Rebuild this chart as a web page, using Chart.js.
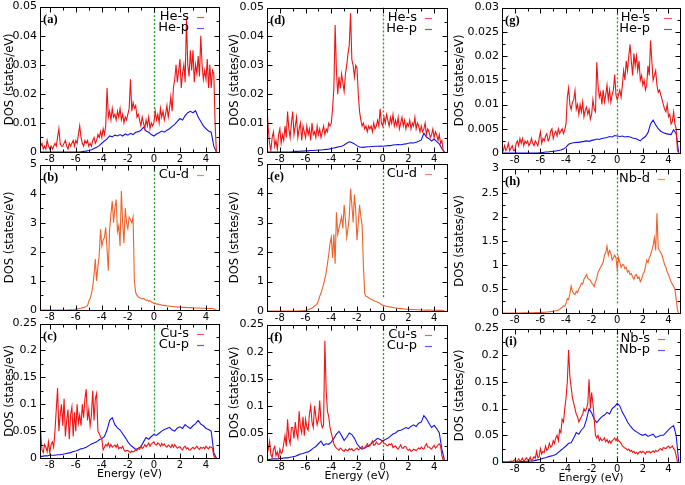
<!DOCTYPE html>
<html><head><meta charset="utf-8">
<script src="https://cdn.jsdelivr.net/npm/chart.js@4.4.0/dist/chart.umd.min.js"></script>
<style>
html,body{margin:0;padding:0;background:#fff;width:685px;height:485px;overflow:hidden;position:relative}
canvas{position:absolute}
</style></head><body>
<script>
// Energy grids (eV)
const energy = [-9.0,-8.8,-8.6,-8.4,-8.2,-8.0,-7.8,-7.6,-7.4,-7.2,
 -7.0,-6.8,-6.6,-6.4,-6.2,-6.0,-5.8,-5.6,-5.4,-5.2,
 -5.0,-4.8,-4.6,-4.4,-4.2,-4.0,-3.8,-3.6,-3.4,-3.2,
 -3.0,-2.8,-2.6,-2.4,-2.2,-2.0,-1.8,-1.6,-1.4,-1.2,
 -1.0,-0.8,-0.6,-0.4,-0.2,0.0,0.2,0.4,0.6,0.8,
 1.0,1.2,1.4,1.6,1.8,2.0,2.2,2.4,2.6,2.8,
 3.0,3.2,3.4,3.6,3.8,4.0,4.2,4.4,4.6,4.8];
const energyFine = [-9.0,-8.9,-8.8,-8.7,-8.6,-8.5,-8.4,-8.3,-8.2,-8.1,
 -8.0,-7.9,-7.8,-7.7,-7.6,-7.5,-7.4,-7.3,-7.2,-7.1,
 -7.0,-6.9,-6.8,-6.7,-6.6,-6.5,-6.4,-6.3,-6.2,-6.1,
 -6.0,-5.9,-5.8,-5.7,-5.6,-5.5,-5.4,-5.3,-5.2,-5.1,
 -5.0,-4.9,-4.8,-4.7,-4.6,-4.5,-4.4,-4.3,-4.2,-4.1,
 -4.0,-3.9,-3.8,-3.7,-3.6,-3.5,-3.4,-3.3,-3.2,-3.1,
 -3.0,-2.9,-2.8,-2.7,-2.6,-2.5,-2.4,-2.3,-2.2,-2.1,
 -2.0,-1.9,-1.8,-1.7,-1.6,-1.5,-1.4,-1.3,-1.2,-1.1,
 -1.0,-0.9,-0.8,-0.7,-0.6,-0.5,-0.4,-0.3,-0.2,-0.1,
 0.0,0.1,0.2,0.3,0.4,0.5,0.6,0.7,0.8,0.9,
 1.0,1.1,1.2,1.3,1.4,1.5,1.6,1.7,1.8,1.9,
 2.0,2.1,2.2,2.3,2.4,2.5,2.6,2.7,2.8,2.9,
 3.0,3.1,3.2,3.3,3.4,3.5,3.6,3.7,3.8,3.9,
 4.0,4.1,4.2,4.3,4.4,4.5,4.6,4.7,4.8];

const xTicks = [-8,-6,-4,-2,0,2,4];
const xMinorTicks = [-9,-7,-5,-3,-1,1,3,5];
const yTicksHe = [0,0.01,0.02,0.03,0.04,0.05];
const yTicksHeNb = [0,0.005,0.01,0.015,0.02,0.025,0.03];
const yTicksCuD = [0,1,2,3,4,5];
const yTicksNbD = [0,0.5,1,1.5,2,2.5,3];
const yTicksSP = [0,0.05,0.1,0.15,0.2,0.25];

// (a) He in Cu, fine grid for s, coarse for p
const aHeS = [.002,.003,.001,.002,.003,.001,.002,.001,.004,.002,
 .001,.002,.001,.002,.003,.002,.005,.008,.003,.002,
 .002,.003,.004,.002,.001,.003,.002,.003,.004,.002,
 .004,.003,.006,.009,.005,.003,.002,.004,.003,.004,
 .002,.003,.002,.004,.005,.003,.004,.006,.005,.007,
 .005,.008,.006,.009,.022,.012,.014,.011,.015,.012,
 .013,.011,.014,.012,.015,.011,.013,.010,.012,.011,
 .013,.015,.025,.014,.017,.015,.016,.012,.013,.011,
 .009,.012,.010,.008,.011,.009,.012,.008,.010,.009,
 .010,.014,.011,.013,.010,.015,.012,.014,.011,.013,
 .016,.012,.015,.019,.014,.022,.025,.030,.024,.028,
 .032,.022,.027,.030,.024,.046,.030,.026,.035,.028,
 .035,.024,.030,.027,.033,.026,.040,.030,.025,.028,
 .025,.032,.022,.030,.022,.028,.027,.010,0];
const aHeP = [0,0,0,0,0,0,0,0,0,0,
 0,0,0,0,0,0,0,.0001,.0002,.0003,
 .0005,.0008,.0012,.0016,.0022,.003,.0038,.0045,.0055,.0052,
 .0058,.0055,.006,.0055,.0062,.0058,.0064,.006,.0068,.007,
 .0075,.0085,.0072,.0068,.006,.0055,.0062,.0066,.0072,.0068,
 .0075,.008,.0088,.0095,.0105,.0115,.011,.0125,.0135,.014,
 .0135,.0142,.012,.0105,.009,.008,.0072,.0068,.002,0];
// (b) Cu-d
const bCuD = [0,0,0,0,0,0,0,0,0,0,
 0,0,0,0,0,0,0,0,0,0,
 0,0,0,0,0,.005,.005,.01,.01,.015,
 .03,.03,.04,.05,.06,.08,.08,.1,.12,.15,
 .3,.4,.55,.8,1.2,1.75,1.0,1.5,1.9,2.78,
 2.2,2.4,2.5,2.84,2.1,1.35,2.8,3.3,3.75,3.0,
 3.5,3.8,2.7,2.9,2.2,4.09,3.0,2.3,3.5,3.0,
 2.8,3.2,3.1,3.0,3.2,1.0,.6,.5,.45,.42,
 .4,.38,.4,.36,.33,.35,.3,.32,.28,.26,
 .22,.24,.2,.21,.18,.19,.17,.16,.16,.15,
 .14,.14,.13,.13,.12,.12,.11,.11,.1,.1,
 .1,.1,.09,.09,.09,.09,.08,.08,.08,.08,
 .07,.07,.07,.07,.07,.07,.06,.06,.06,.06,
 .05,.05,.05,.05,.05,.05,.04,.01,0];
// (c) Cu-s (fine), Cu-p (coarse)
const cCuS = [.03,.035,.02,.05,.015,.01,.025,.02,.012,.03,
 .01,.025,.03,.02,.05,.09,.13,.05,.08,.1,
 .06,.11,.04,.07,.09,.035,.08,.095,.04,.085,
 .05,.1,.065,.08,.06,.1,.075,.11,.128,.07,
 .09,.06,.08,.125,.07,.11,.12,.05,.045,.04,
 .035,.015,.02,.025,.022,.028,.02,.025,.02,.022,
 .024,.02,.025,.017,.02,.018,.022,.015,.012,.014,
 .014,.012,.01,.013,.011,.013,.015,.014,.018,.016,
 .022,.018,.02,.025,.021,.024,.028,.022,.026,.028,
 .03,.025,.024,.028,.026,.022,.027,.023,.026,.022,
 .02,.024,.022,.019,.025,.02,.025,.021,.018,.02,
 .021,.017,.015,.02,.022,.017,.019,.015,.015,.018,
 .02,.017,.019,.022,.018,.016,.02,.018,.02,.017,
 .022,.019,.017,.021,.02,.018,.004,0,0];
const cCuP = [.002,.003,.003,.004,.004,.005,.005,.005,.006,.006,
 .007,.008,.009,.01,.012,.013,.015,.017,.018,.02,
 .023,.026,.028,.03,.034,.036,.04,.052,.07,.075,
 .062,.056,.052,.045,.038,.03,.024,.02,.016,.018,
 .021,.03,.038,.035,.04,.044,.042,.046,.05,.053,
 .055,.057,.052,.05,.056,.058,.055,.062,.058,.055,
 .06,.064,.07,.063,.06,.055,.053,.05,.01,0];
// (d) He in CuNb-interface (fine s, coarse p)
const dHeS = [.015,.008,.003,.0005,.005,.007,.002,.004,.001,.006,
 .008,.003,.006,.004,.009,.005,.014,.008,.005,.010,
 .014,.006,.009,.012,.005,.008,.010,.004,.009,.007,
 .005,.009,.006,.008,.004,.010,.006,.007,.005,.009,
 .006,.008,.005,.007,.009,.006,.008,.007,.010,.009,
 .010,.015,.022,.044,.028,.020,.026,.022,.027,.024,
 .021,.027,.030,.034,.037,.048,.032,.030,.026,.030,
 .029,.020,.014,.011,.009,.010,.008,.009,.007,.009,
 .008,.009,.007,.010,.008,.009,.011,.009,.015,.010,
 .009,.012,.010,.013,.011,.009,.012,.010,.013,.009,
 .011,.009,.012,.008,.010,.012,.009,.011,.008,.010,
 .009,.011,.008,.010,.009,.012,.008,.010,.009,.007,
 .009,.007,.008,.010,.006,.008,.007,.005,.006,.008,
 .005,.007,.006,.004,.006,.003,.004,.0005,0];
const dHeP = [0,0,0,0,0,0,0,0,0,0,
 .0001,.0002,.0002,.0003,.0003,.0004,.0004,.0005,.0005,.0006,
 .0006,.0007,.0008,.0009,.001,.0012,.0014,.0016,.0018,.002,
 .0024,.003,.0035,.0033,.0028,.0022,.0017,.0016,.0017,.0018,
 .0018,.0019,.002,.002,.0021,.002,.0021,.0022,.0022,.0024,
 .0025,.0026,.0025,.0027,.0028,.003,.0032,.0031,.0034,.0037,
 .0042,.0065,.0052,.0046,.0038,.0045,.0036,.0028,.0012,0];
// (e) Cu-d
const eCuD = [0,0,0,0,0,0,0,0,0,0,
 0,0,0,0,0,0,0,0,0,0,
 0,0,0,0,.002,.004,.006,.008,.01,.015,
 .02,.03,.04,.06,.08,.1,.13,.17,.2,.25,
 .35,.5,.6,.75,.9,1.1,1.3,1.6,1.9,2.3,
 2.5,1.8,2.6,1.6,3.35,2.6,2.8,3.0,3.2,2.8,
 3.6,3.1,2.5,2.8,3.2,4.15,3.6,3.0,3.95,3.4,
 2.4,3.0,3.6,3.2,2.9,1.5,.6,.5,.48,.45,
 .42,.4,.38,.35,.33,.32,.3,.28,.25,.22,
 .2,.19,.17,.16,.15,.14,.13,.13,.12,.11,
 .1,.1,.09,.09,.08,.08,.07,.07,.06,.06,
 .06,.05,.05,.05,.05,.05,.04,.04,.04,.04,
 .04,.035,.035,.03,.03,.03,.03,.03,.025,.025,
 .025,.025,.02,.02,.02,.02,.02,.015,.01];
// (f) Cu-s (fine), Cu-p (coarse)
const fCuS = [.01,.02,.035,.01,.005,.02,.025,.008,.015,.005,
 .02,.012,.015,.03,.045,.025,.075,.04,.03,.06,
 .06,.04,.07,.05,.04,.09,.06,.05,.08,.045,
 .075,.06,.055,.085,.1,.07,.06,.1,.08,.065,
 .075,.11,.07,.06,.065,.22,.13,.09,.08,.06,
 .05,.04,.03,.025,.022,.02,.018,.022,.02,.017,
 .016,.02,.018,.017,.021,.019,.021,.017,.018,.02,
 .022,.019,.02,.023,.025,.021,.022,.026,.03,.025,
 .026,.03,.035,.027,.028,.033,.03,.029,.03,.033,
 .036,.03,.03,.027,.026,.03,.028,.03,.023,.025,
 .026,.022,.02,.024,.028,.022,.022,.025,.025,.02,
 .018,.02,.016,.017,.02,.019,.017,.02,.022,.02,
 .024,.021,.02,.026,.03,.024,.024,.022,.02,.024,
 .027,.022,.024,.028,.03,.026,.008,0,0];
const fCuP = [.001,.001,.002,.002,.002,.003,.003,.004,.004,.005,
 .006,.007,.009,.011,.012,.014,.015,.018,.022,.025,
 .03,.035,.027,.03,.029,.033,.04,.048,.053,.045,
 .036,.042,.05,.047,.04,.03,.024,.02,.022,.025,
 .028,.032,.036,.04,.038,.035,.038,.04,.044,.048,
 .05,.054,.055,.057,.06,.058,.062,.065,.062,.068,
 .07,.082,.076,.068,.06,.064,.058,.05,.02,0];
// (g) He in Nb (fine s, coarse p)
const gHeS = [.001,.0005,.0015,.0005,.001,.002,.0005,.001,.0015,.0005,
 .0005,.002,.0025,.0015,.003,.002,.003,.0015,.0025,.002,
 .0025,.0015,.002,.003,.002,.0015,.0025,.002,.0015,.003,
 .0044,.002,.003,.0025,.0035,.004,.0025,.003,.0045,.005,
 .003,.004,.0045,.0035,.005,.004,.0045,.005,.004,.0048,
 .006,.0115,.0134,.010,.009,.0105,.011,.0129,.009,.010,
 .008,.010,.0085,.0105,.0075,.0088,.0095,.008,.009,.007,
 .008,.011,.009,.0085,.0187,.014,.0115,.0125,.010,.013,
 .0105,.012,.014,.011,.013,.0105,.012,.013,.0162,.012,
 .011,.012,.013,.0115,.014,.017,.015,.019,.017,.020,
 .0224,.019,.016,.0205,.018,.020,.017,.019,.015,.016,
 .014,.015,.013,.014,.018,.016,.0232,.019,.015,.016,
 .017,.014,.0125,.013,.012,.011,.010,.009,.0085,.010,
 .0075,.008,.006,.0065,.0085,.006,.005,.0005,0];
const gHeP = [0,0,0,0,0,0,0,0,0,0,
 0,0,0,0,0,.0001,.0001,.0002,.0002,.0003,
 .0003,.0004,.0005,.0006,.0008,.0012,.0018,.002,.0021,.0022,
 .0022,.0023,.0024,.0025,.0024,.0026,.0027,.0029,.0028,.003,
 .0031,.0032,.0034,.0033,.0036,.0035,.0034,.0035,.0033,.0034,
 .0033,.0031,.003,.0028,.0025,.003,.0034,.0042,.006,.0068,
 .0058,.005,.0045,.0042,.004,.0039,.0038,.0048,.004,0];
// (h) Nb-d
const hNbD = [0,0,0,0,0,0,0,0,0,0,
 0,0,0,0,0,0,.002,.002,.003,.003,
 .004,.004,.005,.005,.006,.006,.007,.008,.009,.01,
 .01,.012,.013,.015,.017,.02,.022,.025,.028,.03,
 .035,.04,.045,.05,.06,.08,.1,.12,.15,.14,
 .2,.3,.28,.4,.56,.45,.4,.38,.45,.42,
 .5,.55,.62,.6,.7,.75,.8,.72,.7,.68,
 .62,.6,.55,.65,.72,.85,.9,.95,1.0,1.05,
 1.2,1.25,1.39,1.2,1.3,1.25,1.1,1.15,1.2,1.15,
 .9,1.15,1.05,.95,1.0,1.0,.92,.95,.85,.88,
 .8,.82,.75,.7,.78,.8,.72,.75,.65,.7,
 .8,.85,.95,1.1,1.05,1.15,1.2,1.3,1.4,1.56,
 1.3,2.07,1.35,1.3,1.25,1.2,1.1,1.0,.95,.85,
 .8,.72,.65,.6,.55,.5,.3,.05,0];
// (i) Nb-s (fine), Nb-p (coarse)
const iNbS = [0,0,0,0,0,0,.001,.002,0,.003,
 .004,.001,.002,.006,.002,.003,.007,.002,.004,.008,
 .004,.003,.009,.002,.005,.01,.007,.02,.008,.01,
 .025,.015,.02,.018,.03,.022,.025,.035,.028,.03,
 .04,.035,.045,.05,.04,.06,.055,.08,.075,.1,
 .12,.15,.21,.16,.14,.12,.11,.1,.09,.085,
 .075,.08,.085,.09,.1,.095,.1,.11,.155,.1,
 .13,.11,.08,.05,.045,.05,.04,.045,.04,.042,
 .045,.038,.042,.036,.04,.035,.04,.042,.045,.04,
 .045,.04,.038,.035,.03,.028,.026,.025,.022,.024,
 .02,.022,.018,.02,.016,.018,.015,.018,.02,.017,
 .02,.018,.015,.02,.018,.02,.017,.019,.021,.018,
 .022,.02,.021,.024,.025,.022,.027,.026,.025,.028,
 .03,.026,.028,.03,.025,.022,.012,0,0];
const iNbP = [0,0,0,0,0,0,.0005,.001,.001,.001,
 .0015,.002,.002,.003,.004,.005,.007,.008,.01,.011,
 .012,.014,.018,.022,.026,.03,.035,.036,.045,.055,
 .052,.06,.065,.08,.1,.092,.08,.074,.08,.085,
 .088,.093,.09,.1,.104,.11,.105,.093,.085,.075,
 .068,.062,.058,.055,.052,.05,.052,.048,.05,.052,
 .046,.048,.05,.05,.055,.06,.065,.068,.05,0];

const RED = '#f01414', BLUE = '#1414e6', ORANGE = '#f0622a', GREEN = '#1e9e1e';
const RED_L = 'rgba(240,20,20,0.7)', BLUE_L = 'rgba(20,20,230,0.7)', ORANGE_L = 'rgba(240,98,42,0.75)';

const col1 = {L:40, R:219, xMin:-8.75, xMax:5, yw:40, titleX:10};
const col2 = {L:267, R:447, xMin:-9, xMax:5, yw:44, titleX:235};
const col3 = {L:502, R:680, xMin:-9, xMax:4.9, yw:50, titleX:460};

const panels = [
 {lab:'(a)', col:col1, T:5,   B:152, yTicks:yTicksHe,   fermiLow:0.012, series:[['He-s',energyFine,aHeS,RED,RED_L],['He-p',energy,aHeP,BLUE,BLUE_L]], bottom:false},
 {lab:'(b)', col:col1, T:163, B:310, yTicks:yTicksCuD,  fermiLow:0.34,  series:[['Cu-d',energyFine,bCuD,ORANGE,ORANGE_L]], bottom:false},
 {lab:'(c)', col:col1, T:322, B:458, yTicks:yTicksSP,   fermiLow:0.042, series:[['Cu-s',energyFine,cCuS,RED,RED_L],['Cu-p',energy,cCuP,BLUE,BLUE_L]], bottom:true},
 {lab:'(d)', col:col2, T:6,   B:152, yTicks:yTicksHe,   fermiLow:0.004, series:[['He-s',energyFine,dHeS,RED,RED_L],['He-p',energy,dHeP,BLUE,BLUE_L]], bottom:false},
 {lab:'(e)', col:col2, T:162, B:311, yTicks:yTicksCuD,  fermiLow:0.47,  series:[['Cu-d',energyFine,eCuD,ORANGE,ORANGE_L]], bottom:false},
 {lab:'(f)', col:col2, T:323, B:460, yTicks:yTicksSP,   fermiLow:0.009, series:[['Cu-s',energyFine,fCuS,RED,RED_L],['Cu-p',energy,fCuP,BLUE,BLUE_L]], bottom:true},
 {lab:'(g)', col:col3, T:6,   B:153, yTicks:yTicksHeNb, fermiLow:0.002, series:[['He-s',energyFine,gHeS,RED,RED_L],['He-p',energy,gHeP,BLUE,BLUE_L]], bottom:false, legLine:[16,8]},
 {lab:'(h)', col:col3, T:167, B:313, yTicks:yTicksNbD,  fermiLow:0.2,   series:[['Nb-d',energyFine,hNbD,ORANGE,ORANGE_L]], bottom:false},
 {lab:'(i)', col:col3, T:327, B:462, yTicks:yTicksSP,   fermiLow:0,     series:[['Nb-s',energyFine,iNbS,RED,RED_L],['Nb-p',energy,iNbP,BLUE,BLUE_L]], bottom:true}
];

function fmt(v){ return String(Number(Number(v).toFixed(4))); }

function deco(p){
  return {
    id: 'deco',
    beforeDatasetsDraw(c){
      const {ctx, chartArea:a, scales:{x, y}} = c;
      const px = Math.round(x.getPixelForValue(0)) + 0.5;
      ctx.save();
      ctx.strokeStyle = GREEN; ctx.lineWidth = 1.3; ctx.setLineDash([2,2]);
      ctx.beginPath(); ctx.moveTo(px, y.getPixelForValue(p.fermiLow)); ctx.lineTo(px, a.top); ctx.stroke();
      ctx.restore();
    },
    afterDatasetsDraw(c){
      const {ctx, chartArea:a, scales:{x, y}} = c;
      ctx.save();
      ctx.strokeStyle = '#000'; ctx.lineWidth = 1;
      const l = Math.round(a.left)+0.5, r = Math.round(a.right)+0.5, t = Math.round(a.top)+0.5, b = Math.round(a.bottom)+0.5;
      ctx.strokeRect(l, t, r-l, b-t);
      ctx.beginPath();
      const xt = (v, len) => { const px = Math.round(x.getPixelForValue(v))+0.5; ctx.moveTo(px, b); ctx.lineTo(px, b-len); ctx.moveTo(px, t); ctx.lineTo(px, t+len); };
      xTicks.forEach(v => xt(v, 5));
      xMinorTicks.filter(v => v > x.min && v < x.max).forEach(v => xt(v, 3));
      const yt = (v, len) => { const py = Math.round(y.getPixelForValue(v))+0.5; ctx.moveTo(l, py); ctx.lineTo(l+len, py); ctx.moveTo(r, py); ctx.lineTo(r-len, py); };
      p.yTicks.forEach(v => yt(v, 5));
      for (let i = 0; i+1 < p.yTicks.length; i++) yt((p.yTicks[i]+p.yTicks[i+1])/2, 3);
      ctx.stroke();
      // panel label
      ctx.fillStyle = '#000';
      ctx.font = 'bold 12.5px "Liberation Serif"';
      ctx.textAlign = 'left'; ctx.textBaseline = 'middle';
      ctx.fillText(p.lab, a.left+3, a.top+13);
      // legend
      ctx.font = '13px "DejaVu Sans"';
      ctx.textAlign = 'right';
      const ll = p.legLine || [22,15];
      p.series.forEach((s, i) => {
        const yy = a.top + 10 + i*11.5;
        ctx.fillStyle = '#000';
        ctx.fillText(s[0], a.right - 30, yy);
        ctx.strokeStyle = s[4]; ctx.lineWidth = 1.2;
        ctx.beginPath(); ctx.moveTo(a.right-ll[0], Math.round(yy)+0.5); ctx.lineTo(a.right-ll[1], Math.round(yy)+0.5); ctx.stroke();
      });
      ctx.restore();
    }
  };
}

panels.forEach(p => {
  const C = p.col;
  const PT = 8, PR = 8, XH = p.bottom ? 30 : 14;
  const cl = C.L - C.yw, ct = p.T - PT, cw = C.R - C.L + C.yw + PR, ch = p.B - p.T + PT + XH;
  const cv = document.createElement('canvas');
  cv.width = cw; cv.height = ch;
  cv.style.left = cl + 'px'; cv.style.top = ct + 'px';
  cv.style.width = cw + 'px'; cv.style.height = ch + 'px';
  document.body.appendChild(cv);
  new Chart(cv, {
    type: 'line',
    data: {
      datasets: p.series.map(s => ({
        label: s[0],
        data: s[1].map((e, i) => ({x: e, y: s[2][i]})),
        borderColor: s[3], borderWidth: 1.1, pointRadius: 0, tension: 0, fill: false
      }))
    },
    options: {
      responsive: false, animation: false, devicePixelRatio: 1,
      layout: {padding: {top: PT, right: PR, left: 0, bottom: 0}},
      plugins: {legend: {display: false}, tooltip: {enabled: false}},
      scales: {
        x: {
          type: 'linear', min: C.xMin, max: C.xMax,
          afterFit: s => { s.height = XH; },
          afterBuildTicks: s => { s.ticks = xTicks.map(v => ({value: v})); },
          grid: {display: false, drawTicks: false}, border: {display: false},
          ticks: {autoSkip: false, maxRotation: 0, padding: 1, color: '#000',
                  font: {family: 'DejaVu Sans', size: 10}, callback: v => fmt(v)},
          title: {display: p.bottom, text: 'Energy (eV)', color: '#000',
                  font: {family: 'DejaVu Sans', size: 11, lineHeight: 1.2}, padding: {top: 0, bottom: 7}}
        },
        y: {
          type: 'linear', min: 0, max: p.yTicks[p.yTicks.length-1],
          afterFit: s => { s.width = C.yw; },
          afterBuildTicks: s => { s.ticks = p.yTicks.map(v => ({value: v})); },
          grid: {display: false, drawTicks: false}, border: {display: false},
          ticks: {autoSkip: false, padding: 3, color: '#000',
                  font: {family: 'DejaVu Sans', size: 11}, callback: v => fmt(v)},
          title: {display: true, text: 'DOS (states/eV)', color: '#000',
                  font: {family: 'DejaVu Sans', size: 11.5, lineHeight: 1.2},
                  padding: {top: C.titleX - C.L + C.yw - 6.9, bottom: 0}}
        }
      }
    },
    plugins: [deco(p)]
  });
});
</script>
</body></html>
